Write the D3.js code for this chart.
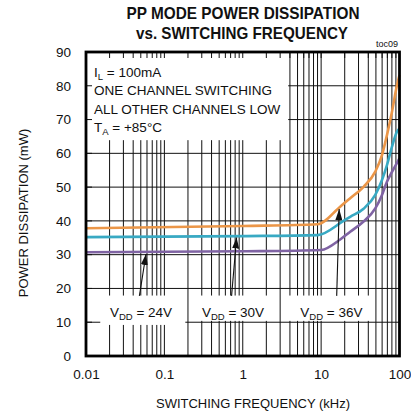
<!DOCTYPE html>
<html>
<head>
<meta charset="utf-8">
<script src="https://cdn.jsdelivr.net/npm/d3@7"></script>
<style>
  body { margin: 0; background: #fff; }
  svg text { font-family: "Liberation Sans", Arial, sans-serif; fill: #111; }
</style>
</head>
<body>
<svg id="chart" width="411" height="416"></svg>
<script>
// values (kHz, mW)
const freqOrange = [0.01, 1, 9, 17.5, 23.5, 34.8, 49.1, 59.8, 69.2, 80.2, 92.9, 100];
const pdOrange   = [37.8, 38.5, 39.0, 44.2, 46.7, 50.1, 54.6, 59.5, 65.4, 72.3, 80.2, 83.2];
const freqTeal   = [0.01, 1, 9, 19.3, 23.5, 34.8, 49.1, 59.8, 69.2, 80.2, 92.9, 100];
const pdTeal     = [35.2, 35.5, 35.8, 40.0, 41.2, 43.6, 47.7, 52.1, 56.5, 62.0, 66.4, 67.4];
const freqPurple = [0.01, 1, 10, 17.5, 23.5, 34.8, 49.1, 59.8, 69.2, 80.2, 92.9, 100];
const pdPurple   = [30.7, 31.0, 31.4, 34.5, 36.8, 39.8, 43.7, 47.7, 51.6, 54.5, 57.2, 58.5];

const xTicks = [0.01, 0.1, 1, 10, 100];
const xTickLabels = ["0.01", "0.1", "1", "10", "100"];
const yTicks = [0, 10, 20, 30, 40, 50, 60, 70, 80, 90];
const vddLabels = ["24V", "30V", "36V"];
const legendLines = ["ONE CHANNEL SWITCHING", "ALL OTHER CHANNELS LOW"];

const svg = d3.select("#chart");
const x = d3.scaleLog().domain([0.01, 100]).range([86, 399.5]);
const y = d3.scaleLinear().domain([0, 90]).range([356, 52]);

const colors = ["#eb9648", "#38a9c3", "#7f63a3"];
const series = [
  d3.zip(freqOrange, pdOrange),
  d3.zip(freqTeal, pdTeal),
  d3.zip(freqPurple, pdPurple)
];

// grid
const vGrid = x.ticks().filter(v => v > 0.0101 && v < 99);
const hGrid = yTicks.filter(v => v > 0 && v < 90);
const grid = svg.append("g").attr("stroke", "#111").attr("stroke-width", 1);
grid.selectAll(".v").data(vGrid).join("line")
  .attr("x1", d => x(d)).attr("x2", d => x(d))
  .attr("y1", y(0)).attr("y2", y(90));
grid.selectAll(".h").data(hGrid).join("line")
  .attr("x1", x(0.01)).attr("x2", x(100))
  .attr("y1", d => y(d)).attr("y2", d => y(d));

// white panels behind notes
svg.append("rect")
  .attr("x", x(0.01)).attr("y", y(90))
  .attr("width", x(3.8) - x(0.01)).attr("height", y(63.9) - y(90))
  .attr("fill", "#fff");

const vddBoxes = [
  { f0: 0.0152, f1: 0.185, top: 17.9, bottom: 9.2, fc: 0.0503 },
  { f0: 0.207, f1: 2.9, top: 17.9, bottom: 10.4, fc: 0.75 },
  { f0: 3.1, f1: 48.5, top: 17.9, bottom: 10.4, fc: 13.5 }
];
svg.selectAll(".vbox").data(vddBoxes).join("rect")
  .attr("x", d => x(d.f0)).attr("y", d => y(d.top))
  .attr("width", d => x(d.f1) - x(d.f0)).attr("height", d => y(d.bottom) - y(d.top))
  .attr("fill", "#fff");

// small ticks along top and left edges (visible inside the note panel)
const ticks = svg.append("g").attr("stroke", "#111").attr("stroke-width", 1);
ticks.selectAll(".tt").data(vGrid).join("line")
  .attr("x1", d => x(d)).attr("x2", d => x(d))
  .attr("y1", y(90)).attr("y2", y(90) + 6);
ticks.selectAll(".lt").data(hGrid).join("line")
  .attr("x1", x(0.01)).attr("x2", x(0.01) + 6)
  .attr("y1", d => y(d)).attr("y2", d => y(d));

// curves
const line = d3.line().x(d => x(d[0])).y(d => y(d[1])).curve(d3.curveMonotoneX);
svg.selectAll(".curve").data(series).join("path")
  .attr("d", line)
  .attr("fill", "none")
  .attr("stroke", (d, i) => colors[i])
  .attr("stroke-width", 2.6);

// arrows
svg.append("defs").append("marker")
  .attr("id", "ah").attr("viewBox", "0 0 11 7")
  .attr("refX", 11).attr("refY", 3.5)
  .attr("markerWidth", 11).attr("markerHeight", 7)
  .attr("markerUnits", "userSpaceOnUse").attr("orient", "auto")
  .append("path").attr("d", "M0,0L11,3.5L0,7Z").attr("fill", "#111");

const arrows = [
  { from: [0.048, 17.8], to: [0.0583, 30.2] },
  { from: [0.72, 17.8], to: [0.835, 35.1] },
  { from: [15.8, 17.8], to: [17.0, 43.5] }
];
svg.selectAll(".arrow").data(arrows).join("line")
  .attr("x1", d => x(d.from[0])).attr("y1", d => y(d.from[1]))
  .attr("x2", d => x(d.to[0])).attr("y2", d => y(d.to[1]))
  .attr("stroke", "#111").attr("stroke-width", 1.1)
  .attr("marker-end", "url(#ah)");

// VDD labels
const vt = svg.selectAll(".vdd").data(vddBoxes).join("text")
  .attr("x", d => x(d.fc)).attr("y", y(11.6))
  .attr("text-anchor", "middle").attr("font-size", 13.5);
vt.append("tspan").text("V");
vt.append("tspan").attr("font-size", 9.5).attr("dy", 3).text("DD");
vt.append("tspan").attr("dy", -3).text((d, i) => " = " + vddLabels[i]);

// frame
svg.append("rect")
  .attr("x", x(0.01)).attr("y", y(90))
  .attr("width", x(100) - x(0.01)).attr("height", y(0) - y(90))
  .attr("fill", "none").attr("stroke", "#000").attr("stroke-width", 2.8);

// legend note
const noteX = 94;
const n1 = svg.append("text").attr("x", noteX).attr("y", 77).attr("font-size", 13.5);
n1.append("tspan").text("I");
n1.append("tspan").attr("font-size", 9.5).attr("dy", 3).text("L");
n1.append("tspan").attr("dy", -3).text(" = 100mA");
svg.selectAll(".note").data(legendLines).join("text")
  .attr("x", noteX).attr("y", (d, i) => 95.3 + i * 18.3)
  .attr("font-size", 13.5).text(d => d);
const n4 = svg.append("text").attr("x", noteX).attr("y", 131.9).attr("font-size", 13.5);
n4.append("tspan").text("T");
n4.append("tspan").attr("font-size", 9.5).attr("dy", 3).text("A");
n4.append("tspan").attr("dy", -3).text(" = +85°C");

// axes
const yAxis = svg.append("g").attr("transform", `translate(${x(0.01)},0)`)
  .call(d3.axisLeft(y).tickValues(yTicks).tickSize(0).tickPadding(15));
const xAxis = svg.append("g").attr("transform", `translate(0,${y(0)})`)
  .call(d3.axisBottom(x).tickValues(xTicks).tickSize(0).tickPadding(13)
    .tickFormat((d, i) => xTickLabels[i]));
[yAxis, xAxis].forEach(a => {
  a.select(".domain").remove();
  a.selectAll("text").attr("font-size", 13.5)
    .attr("font-family", '"Liberation Sans", Arial, sans-serif').attr("fill", "#111");
});

// titles
svg.append("text").attr("x", 243).attr("y", 19).attr("text-anchor", "middle")
  .attr("font-size", 16.5).attr("font-weight", "bold")
  .attr("textLength", 233).attr("lengthAdjust", "spacingAndGlyphs")
  .text("PP MODE POWER DISSIPATION");
svg.append("text").attr("x", 242).attr("y", 39).attr("text-anchor", "middle")
  .attr("font-size", 16.5).attr("font-weight", "bold")
  .attr("textLength", 212).attr("lengthAdjust", "spacingAndGlyphs")
  .text("vs. SWITCHING FREQUENCY");
svg.append("text").attr("x", 398).attr("y", 47).attr("text-anchor", "end")
  .attr("font-size", 9).text("toc09");

svg.append("text").attr("x", 253).attr("y", 407.5).attr("text-anchor", "middle")
  .attr("font-size", 13).text("SWITCHING FREQUENCY (kHz)");
svg.append("text").attr("transform", "translate(28,213) rotate(-90)")
  .attr("text-anchor", "middle").attr("font-size", 13)
  .text("POWER DISSIPATION (mW)");
</script>
</body>
</html>
